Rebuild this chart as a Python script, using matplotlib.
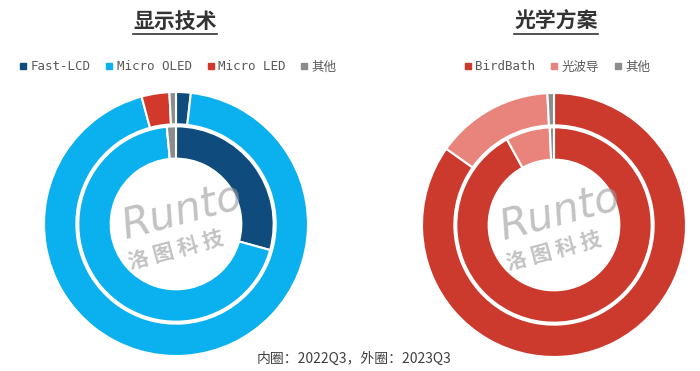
import numpy as np
import matplotlib
matplotlib.use("Agg")
import matplotlib.pyplot as plt
from matplotlib.lines import Line2D

plt.rcParams['font.family'] = ['Noto Sans CJK SC', 'DejaVu Sans']

# 显示技术
disp_labels = ['Fast-LCD', 'Micro OLED', 'Micro LED', '其他']
disp_colors = ['#0F4C7D', '#0BB0EE', '#D3392B', '#8C8C8C']
disp_outer = [1.8, 94.0, 3.4, 0.8]   # 2023Q3
disp_inner = [29.3, 69.2, 0.0, 1.5]  # 2022Q3

# 光学方案
opt_labels = ['BirdBath', '光波导', '其他']
opt_colors = ['#CC3A2D', '#E8847B', '#8C8C8C']
opt_outer = [84.8, 14.4, 0.8]
opt_inner = [92.0, 7.3, 0.7]

W, H = 700, 371
fig = plt.figure(figsize=(7, 3.71), dpi=100)
fig.patch.set_facecolor('white')

R = 132


def donut(cx, cy, outer, inner, colors):
    ax = fig.add_axes([(cx - R) / W, (H - cy - R) / H, 2 * R / W, 2 * R / H])
    ax.pie(outer, colors=colors, radius=1.0, startangle=90, counterclock=False,
           wedgeprops=dict(width=0.245, edgecolor='white', linewidth=1.5))
    ax.pie(inner, colors=colors, radius=0.74, startangle=90, counterclock=False,
           wedgeprops=dict(width=0.245, edgecolor='white', linewidth=1.5))
    ax.set_xlim(-1, 1)
    ax.set_ylim(-1, 1)
    ax.set_aspect('equal')
    ax.axis('off')
    # watermark
    ax.text(0.05, 0.1, 'Runto', fontsize=30, color='#9A9A9A', alpha=0.6,
            rotation=15, ha='center', va='center', style='italic',
            family=['DejaVu Sans'])
    ax.text(0.0, -0.2, '洛 图 科 技', fontsize=15, color='#9A9A9A', alpha=0.6,
            rotation=15, ha='center', va='center', fontweight='bold')
    return ax


donut(176, 224, disp_outer, disp_inner, disp_colors)
donut(554, 225, opt_outer, opt_inner, opt_colors)

# titles
titles = []
for x, t in [(175, '显示技术'), (556, '光学方案')]:
    titles.append(fig.text(x / W, 1 - 21 / H, t, ha='center', va='center',
                           fontsize=15, fontweight='bold', color='#333333'))

# legends
mono = ['DejaVu Sans Mono', 'Noto Sans CJK SC']


def make_legend(labels, colors, x):
    handles = [Line2D([], [], marker='s', linestyle='none', markersize=4,
                      markerfacecolor=c, markeredgecolor=c) for c in colors]
    fig.legend(handles, labels, loc='center', bbox_to_anchor=(x / W, 1 - 67 / H),
               ncol=len(labels), frameon=False, handlelength=0.6,
               handletextpad=0.3, columnspacing=1.2,
               prop=dict(family=mono, size=9), labelcolor='#595959')


make_legend(disp_labels, disp_colors, 178)
make_legend(opt_labels, opt_colors, 557)

fig.text(354 / W, 1 - 359 / H, '内圈：2022Q3，外圈：2023Q3', ha='center',
         va='center', fontsize=10, color='#404040')

# underline titles
fig.canvas.draw()
r = fig.canvas.get_renderer()
for t in titles:
    bb = t.get_window_extent(renderer=r)
    y = (bb.y0 - 2) / H
    fig.add_artist(Line2D([bb.x0 / W, bb.x1 / W], [y, y], color='#333333',
                          linewidth=1.2, transform=fig.transFigure))

fig.savefig('out.png', dpi=100, facecolor='white')
